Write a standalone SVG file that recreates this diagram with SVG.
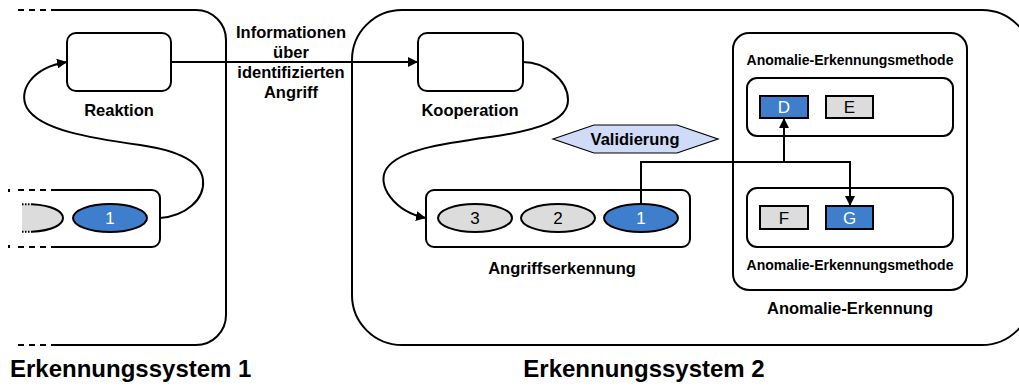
<svg xmlns="http://www.w3.org/2000/svg" width="1019" height="387" viewBox="0 0 1019 387">
  <style>
    .frame { fill: none; stroke: #000; stroke-width: 2; }
    .box { fill: #fff; stroke: #000; stroke-width: 2; }
    .dash { fill: none; stroke: #000; stroke-width: 2; stroke-dasharray: 6 5; }
    .blue { fill: #3f7ecd; stroke: #000; stroke-width: 2; }
    .gray { fill: #dcdcdc; stroke: #000; stroke-width: 2; }
    .conn { fill: none; stroke: #000; stroke-width: 2; }
    .lbl { font-family: "Liberation Sans", Arial, sans-serif; font-weight: bold; fill: #000; text-anchor: middle; }
    .sys { font-size: 24px; }
    .mid { font-size: 16.5px; }
    .sm { font-size: 14px; }
    .item { font-family: "Liberation Sans", Arial, sans-serif; font-size: 17px; text-anchor: middle; }
  </style>
  <defs>
    <marker id="arrow" viewBox="0 0 10 10" refX="10" refY="5" markerWidth="10" markerHeight="10" markerUnits="userSpaceOnUse" orient="auto">
      <path d="M0,0 L10,5 L0,10 Z" fill="#000"/>
    </marker>
    <clipPath id="cutLeft">
      <rect x="22" y="195" width="60" height="45"/>
    </clipPath>
  </defs>

  <!-- Erkennungssystem 1 (left part cut off) -->
  <g id="system1">
    <path class="frame" d="M55,10 H196 A30,30 0 0 1 226,40 V315 A30,30 0 0 1 196,345 H55"/>
    <path class="dash" d="M18,10 H55 M18,345 H55"/>
    <text class="lbl sys" x="10" y="377" text-anchor="start" style="text-anchor:start">Erkennungssystem 1</text>
  </g>

  <g id="reaktion">
    <rect class="box" x="67" y="33" width="104" height="58" rx="9"/>
    <text class="lbl mid" x="119" y="116">Reaktion</text>
  </g>

  <g id="queue1">
    <path class="box" d="M55,190 H152 A8,8 0 0 1 160,198 V239 A8,8 0 0 1 152,247 H55" fill="#fff"/>
    <path class="dash" d="M18,190 H55 M18,247 H55"/>
    <path class="conn" d="M9,189 V192 M9,245 V248" stroke-width="1.5"/>
    <ellipse cx="26" cy="218" rx="37" ry="14" fill="#dcdcdc" clip-path="url(#cutLeft)"/>
    <path class="conn" d="M32,204.3 C52,205.5 63,211 63,218 C63,225 52,230.5 32,231.7"/>
    <path d="M22,204.3 H32 M22,231.7 H32" stroke="#000" stroke-width="2" stroke-dasharray="1.5 1.5" fill="none"/>
    <ellipse class="blue" cx="110" cy="218" rx="37" ry="14"/>
    <text class="item" x="110" y="224" fill="#fff">1</text>
  </g>

  <!-- Erkennungssystem 2 -->
  <g id="system2">
    <rect class="frame" x="352" y="10" width="680" height="335" rx="50"/>
    <text class="lbl sys" x="644" y="377">Erkennungssystem 2</text>
  </g>

  <g id="kooperation">
    <rect class="box" x="418" y="33" width="105" height="58" rx="9"/>
    <text class="lbl mid" x="470" y="116">Kooperation</text>
  </g>

  <g id="angriffserkennung">
    <rect class="box" x="426" y="190" width="264" height="57" rx="8"/>
    <ellipse class="gray" cx="475" cy="218" rx="37" ry="14"/>
    <text class="item" x="475" y="224">3</text>
    <ellipse class="gray" cx="558" cy="218" rx="37" ry="14"/>
    <text class="item" x="558" y="224">2</text>
    <ellipse class="blue" cx="641" cy="218" rx="37" ry="14"/>
    <text class="item" x="641" y="224" fill="#fff">1</text>
    <text class="lbl mid" x="562" y="274">Angriffserkennung</text>
  </g>

  <g id="validierung">
    <polygon points="553,139 594,125 677,125 718,139 677,153 594,153" fill="#cfdbf7" stroke="#000" stroke-width="1.2"/>
    <text class="lbl mid" x="635" y="145">Validierung</text>
  </g>

  <g id="anomalie-erkennung">
    <rect class="box" x="733" y="33" width="234" height="257" rx="16"/>
    <text class="lbl sm" x="850" y="65">Anomalie-Erkennungsmethode</text>
    <rect class="box" x="747" y="78" width="206" height="58" rx="10"/>
    <rect class="blue" x="760" y="96" width="48" height="22"/>
    <text class="item" x="784" y="113" fill="#fff">D</text>
    <rect class="gray" x="826" y="96" width="47" height="22"/>
    <text class="item" x="849.5" y="113">E</text>
    <rect class="box" x="747" y="188" width="206" height="59" rx="10"/>
    <rect class="gray" x="760" y="206" width="48" height="23"/>
    <text class="item" x="784" y="224">F</text>
    <rect class="blue" x="826" y="206" width="47" height="23"/>
    <text class="item" x="849.5" y="224" fill="#fff">G</text>
    <text class="lbl sm" x="850" y="270">Anomalie-Erkennungsmethode</text>
    <text class="lbl mid" x="850" y="314">Anomalie-Erkennung</text>
  </g>

  <g id="info-label">
    <text class="lbl mid" x="291" y="38">Informationen</text>
    <text class="lbl mid" x="291" y="58">über</text>
    <text class="lbl mid" x="291" y="78">identifizierten</text>
    <text class="lbl mid" x="291" y="98">Angriff</text>
  </g>

  <g id="connectors">
    <path class="conn" d="M160,218 C185,216 205,200 203,180 C201,160 175,150 140,145 C90,138 40,130 27,108 C18,92 30,68 67,62" marker-end="url(#arrow)"/>
    <path class="conn" d="M171,62 H418" marker-end="url(#arrow)"/>
    <path class="conn" d="M523,62 C545,62 568,80 568,100 C568,120 540,130 490,137 C440,144 400,150 387,168 C375,185 395,212 426,218" marker-end="url(#arrow)"/>
    <path class="conn" d="M641,204 V162 H850 V206" marker-end="url(#arrow)"/>
    <path class="conn" d="M784,162 V118" marker-end="url(#arrow)"/>
  </g>
</svg>
